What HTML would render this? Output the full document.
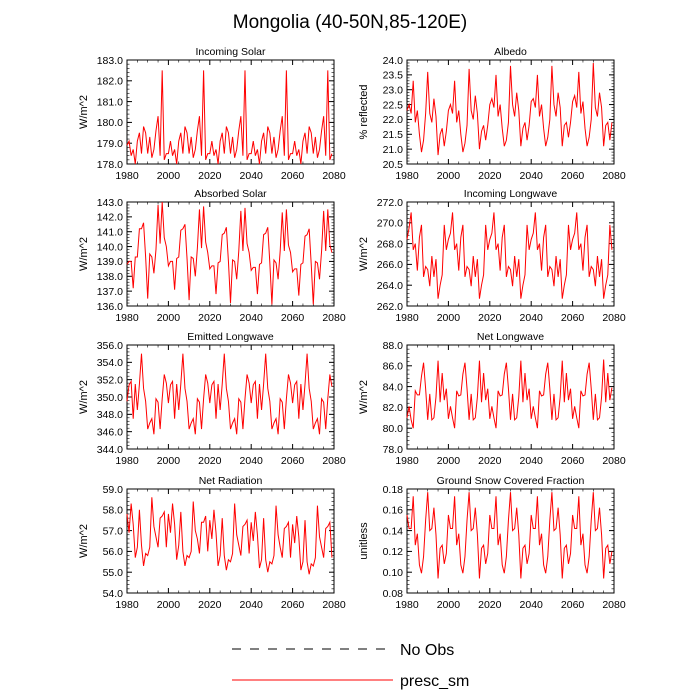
<!DOCTYPE html>
<html><head><meta charset="utf-8">
<style>
html,body{margin:0;padding:0;background:#fff;}
svg{display:block;font-family:"Liberation Sans",sans-serif;}
</style></head>
<body>
<svg id="chart" width="700" height="700" viewBox="0 0 700 700" xmlns="http://www.w3.org/2000/svg">
<text x="350" y="28" text-anchor="middle" font-size="19">Mongolia (40-50N,85-120E)</text>
<g id="panels"></g>
<g>
<line x1="232" y1="649" x2="390" y2="649" stroke="#000" stroke-width="1" stroke-dasharray="9,9"/>
<text x="400" y="655" font-size="16">No Obs</text>
<line x1="232" y1="680" x2="393" y2="680" stroke="#f00" stroke-width="1"/>
<text x="400" y="686" font-size="16">presc_sm</text>
</g>
</svg>
<script>
const years=[];for(let y=1980;y<2080;y++)years.push(y);
const xTicks=[1980,2000,2020,2040,2060,2080];
const incomingSolar=[178.9,179.1,178.4,178.7,178.0,179.1,179.5,178.5,179.8,179.5,178.5,179.3,178.3,178.7,179.6,180.3,178.4,182.5,178.2,178.5,
178.5,179.1,178.4,178.7,178.0,179.1,179.5,178.5,179.8,179.5,178.5,179.3,178.3,178.7,179.6,180.3,178.4,182.5,178.2,178.5,
178.5,179.1,178.4,178.7,178.0,179.1,179.5,178.5,179.8,179.5,178.5,179.3,178.3,178.7,179.6,180.3,178.4,182.5,178.2,178.5,
178.5,179.1,178.4,178.7,178.0,179.1,179.5,178.5,179.8,179.5,178.5,179.3,178.3,178.7,179.6,180.3,178.4,182.5,178.2,178.5,
178.5,179.1,178.4,178.7,178.0,179.1,179.5,178.5,179.8,179.5,178.5,179.3,178.3,178.7,179.6,180.3,178.4,182.5,178.2,178.5];
const albedo=[22.3,22.5,22.2,23.3,21.9,22.3,21.5,20.9,21.3,22.2,23.6,22.2,21.9,22.7,22.1,20.8,21.5,21.7,21.1,21.6,
22.3,22.5,22.2,23.3,21.9,22.3,21.5,20.9,21.2,21.8,23.7,22.3,22.0,22.8,22.2,21.0,21.6,21.8,21.3,21.8,
22.5,22.7,22.4,23.5,22.1,22.5,21.7,21.1,21.3,21.9,23.8,22.5,22.1,22.9,22.3,21.1,21.7,21.9,21.3,21.8,
22.6,22.7,22.4,23.5,22.1,22.5,21.7,21.1,21.4,22.0,23.8,22.5,22.1,22.9,22.4,21.1,21.8,21.9,21.4,21.9,
22.6,22.8,22.4,23.6,22.2,22.6,21.7,21.1,21.4,22.0,23.9,22.4,22.1,22.9,22.4,21.1,21.8,21.9,21.3,21.9];
const absorbedSolar=[138.8,139.0,139.0,137.2,139.3,139.3,141.2,141.2,141.6,139.3,136.5,139.5,139.3,138.2,139.8,142.8,140.2,143.0,140.6,140.0,
138.7,139.0,139.0,137.1,139.2,139.3,141.1,141.2,141.5,139.2,136.4,139.3,139.2,138.0,139.9,142.5,139.9,142.7,140.3,139.6,
138.5,138.7,138.7,136.8,138.9,139.0,140.8,140.9,141.3,139.0,136.2,139.1,139.0,137.8,139.7,142.4,139.7,142.6,140.2,139.6,
138.4,138.6,138.6,136.8,138.8,138.9,140.8,140.9,141.3,138.9,136.1,139.1,138.9,137.8,139.7,142.3,139.7,142.5,140.1,139.6,
138.3,138.5,138.5,136.7,138.8,138.9,140.7,140.8,141.2,138.8,136.1,139.0,138.9,137.8,139.7,142.4,139.7,142.5,140.1,139.6];
const incomingLongwave=[268.4,269.5,271.0,267.4,268.0,265.4,268.6,269.8,264.8,265.8,265.5,263.9,266.8,264.8,266.5,262.7,264.0,265.0,269.8,267.4,
268.4,269.0,271.0,267.4,268.0,265.4,268.6,269.8,264.8,265.8,265.5,263.9,266.8,264.8,266.5,262.7,264.0,265.0,269.8,267.4,
268.4,269.0,271.0,267.4,268.0,265.4,268.6,269.8,264.8,265.8,265.5,263.9,266.8,264.8,266.5,262.7,264.0,265.0,269.8,267.4,
268.4,269.0,271.0,267.4,268.0,265.4,268.6,269.8,264.8,265.8,265.5,263.9,266.8,264.8,266.5,262.7,264.0,265.0,269.8,267.4,
268.4,269.0,271.0,267.4,268.0,265.4,268.6,269.8,264.8,265.8,265.5,263.9,266.8,264.8,266.5,262.7,264.0,265.0,269.8,267.4];
const emittedLongwave=[349.5,351.4,351.8,347.5,351.5,348.5,351.5,355.0,351.0,349.5,346.3,347.0,347.5,345.7,349.8,349.4,346.3,349.8,352.6,351.6,
349.3,351.4,351.8,347.5,351.5,348.5,351.5,355.0,351.0,349.5,346.3,347.0,347.5,345.7,349.8,349.4,346.3,349.8,352.6,351.6,
349.3,351.4,351.8,347.5,351.5,348.5,351.5,355.0,351.0,349.5,346.3,347.0,347.5,345.7,349.8,349.4,346.3,349.8,352.6,351.6,
349.3,351.4,351.8,347.5,351.5,348.5,351.5,355.0,351.0,349.5,346.3,347.0,347.5,345.7,349.8,349.4,346.3,349.8,352.6,351.6,
349.3,351.4,351.8,347.5,351.5,348.5,351.5,355.0,351.0,349.5,346.3,347.0,347.5,345.7,349.8,349.4,346.3,349.8,352.6,351.2];
const netLongwave=[81.0,82.1,80.8,80.0,83.6,83.2,83.2,85.0,86.3,83.8,80.8,83.3,80.8,81.0,83.0,86.5,82.5,85.3,82.7,83.8,
80.9,82.1,81.0,80.0,83.6,83.1,83.2,85.2,86.3,83.8,80.8,83.3,80.8,81.0,83.0,86.5,82.5,85.3,82.7,83.8,
80.9,82.1,81.0,80.0,83.6,83.1,83.2,85.2,86.3,83.8,80.8,83.3,80.8,81.0,83.0,86.5,82.5,85.3,82.7,83.8,
80.9,82.1,81.0,80.0,83.6,83.1,83.2,85.2,86.3,83.8,80.8,83.3,80.8,81.0,83.0,86.5,82.5,85.3,82.7,83.8,
80.9,82.1,81.0,80.0,83.6,83.1,83.2,85.2,86.3,83.8,80.8,83.3,80.8,81.0,83.0,86.6,82.5,85.3,82.7,83.9];
const netRadiation=[57.8,56.9,58.3,57.3,55.7,56.2,58.0,56.3,55.3,55.9,55.8,56.2,58.6,57.2,56.7,56.2,57.6,57.7,57.9,56.2,
57.8,56.9,58.3,57.3,55.6,56.3,57.9,56.0,55.3,55.8,55.7,56.0,58.4,57.0,56.6,55.9,57.4,57.4,57.7,56.0,
57.5,56.6,58.0,56.9,55.3,55.8,57.6,55.8,55.1,55.6,55.5,55.9,58.3,56.8,56.3,55.8,57.2,57.3,57.5,55.9,
57.4,56.5,57.9,56.8,55.2,55.6,57.6,55.6,55.0,55.5,55.4,55.8,58.2,56.8,56.2,55.7,57.1,57.2,57.4,55.7,
57.3,56.4,57.7,56.7,55.1,55.5,57.5,55.5,54.9,55.4,55.3,55.7,58.2,56.7,56.2,55.7,57.1,57.2,57.4,55.7];
const snowFraction=[0.155,0.142,0.142,0.173,0.126,0.137,0.107,0.099,0.115,0.150,0.177,0.140,0.142,0.162,0.136,0.094,0.123,0.126,0.108,0.118,
0.155,0.142,0.142,0.173,0.126,0.137,0.107,0.099,0.115,0.150,0.177,0.140,0.142,0.162,0.136,0.094,0.123,0.126,0.108,0.118,
0.155,0.142,0.142,0.173,0.126,0.137,0.107,0.099,0.115,0.150,0.177,0.140,0.142,0.162,0.136,0.094,0.123,0.126,0.108,0.118,
0.155,0.142,0.142,0.173,0.126,0.137,0.107,0.099,0.115,0.150,0.177,0.140,0.142,0.162,0.136,0.094,0.123,0.126,0.108,0.118,
0.155,0.142,0.142,0.173,0.126,0.137,0.107,0.099,0.115,0.150,0.177,0.140,0.142,0.162,0.136,0.094,0.123,0.126,0.108,0.120];

const panels=[
 {name:'incoming-solar',title:'Incoming Solar',ylab:'W/m^2',data:incomingSolar,min:178,max:183,step:1,minor:0.2,dec:1,col:0,row:0},
 {name:'albedo',title:'Albedo',ylab:'% reflected',data:albedo,min:20.5,max:24,step:0.5,minor:0.1,dec:1,col:1,row:0},
 {name:'absorbed-solar',title:'Absorbed Solar',ylab:'W/m^2',data:absorbedSolar,min:136,max:143,step:1,minor:0.2,dec:1,col:0,row:1},
 {name:'incoming-longwave',title:'Incoming Longwave',ylab:'W/m^2',data:incomingLongwave,min:262,max:272,step:2,minor:0.4,dec:1,col:1,row:1},
 {name:'emitted-longwave',title:'Emitted Longwave',ylab:'W/m^2',data:emittedLongwave,min:344,max:356,step:2,minor:0.4,dec:1,col:0,row:2},
 {name:'net-longwave',title:'Net Longwave',ylab:'W/m^2',data:netLongwave,min:78,max:88,step:2,minor:0.4,dec:1,col:1,row:2},
 {name:'net-radiation',title:'Net Radiation',ylab:'W/m^2',data:netRadiation,min:54,max:59,step:1,minor:0.2,dec:1,col:0,row:3},
 {name:'snow-fraction',title:'Ground Snow Covered Fraction',ylab:'unitless',data:snowFraction,min:0.08,max:0.18,step:0.02,minor:0.004,dec:2,col:1,row:3}
];
const NS='http://www.w3.org/2000/svg';
const root=document.getElementById('panels');
const lefts=[127,407],tops=[60,202,345,489],W=207,H=104;
function mk(tag,attrs,parent){const e=document.createElementNS(NS,tag);for(const k in attrs)e.setAttribute(k,attrs[k]);parent.appendChild(e);return e;}
panels.forEach(p=>{
 const x0=lefts[p.col],y0=tops[p.row];
 const g=mk('g',{},root);
 
 
 const xs=v=>x0+(v-1980)/100*W;
 const ys=v=>y0+H-(v-p.min)/(p.max-p.min)*H;
 const t=mk('text',{x:x0+W/2,y:y0-5,'text-anchor':'middle','font-size':'10.5'},g);t.textContent=p.title;
 
 
 const yl=mk('text',{x:0,y:0,'text-anchor':'middle','font-size':'11',transform:`translate(${x0-40},${y0+H/2}) rotate(-90)`},g);yl.textContent=p.ylab;
 
 
 const nMin=Math.round((p.max-p.min)/p.minor);
 for(let i=0;i<=nMin;i++){const y=ys(p.min+i*p.minor);
  mk('line',{x1:x0,x2:x0+2.5,y1:y,y2:y,stroke:'#000','stroke-width':0.6},g);
  mk('line',{x1:x0+W,x2:x0+W-2.5,y1:y,y2:y,stroke:'#000','stroke-width':0.6},g);}
 const nMaj=Math.round((p.max-p.min)/p.step);
 for(let i=0;i<=nMaj;i++){const v=p.min+i*p.step,y=ys(v);
  mk('line',{x1:x0,x2:x0+5,y1:y,y2:y,stroke:'#000','stroke-width':1},g);
  mk('line',{x1:x0+W-5,x2:x0+W,y1:y,y2:y,stroke:'#000','stroke-width':1},g);
  const tl=mk('text',{x:x0-4,y:y+3.8,'text-anchor':'end','font-size':'10.5'},g);tl.textContent=v.toFixed(p.dec);
  
  }
 for(let v=1980;v<=2080;v+=5){const x=xs(v),L=(v%20===0)?5:2.5;
  mk('line',{x1:x,x2:x,y1:y0+H,y2:y0+H-L,stroke:'#000','stroke-width':L>3?1:0.6},g);
  mk('line',{x1:x,x2:x,y1:y0,y2:y0+L,stroke:'#000','stroke-width':L>3?1:0.6},g);}
 xTicks.forEach(v=>{const tl=mk('text',{x:xs(v),y:y0+H+15,'text-anchor':'middle','font-size':'10.5'},g);tl.textContent=v;
  
  });
 const fr=mk('rect',{x:x0,y:y0,width:W,height:H,fill:'none',stroke:'#000','stroke-width':1},g);
 
 
 const pts=p.data.map((v,i)=>xs(years[i]).toFixed(2)+','+ys(v).toFixed(2)).join(' ');
 const ln=mk('polyline',{points:pts,fill:'none',stroke:'#f00','stroke-width':1},g);
 
 
});
</script>
</body></html>
